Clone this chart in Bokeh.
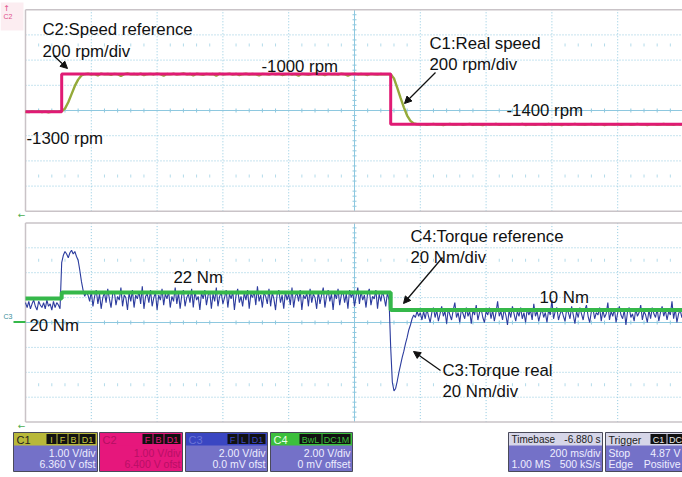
import numpy as np
from bokeh.plotting import figure
from bokeh.models import Range1d, Arrow, NormalHead
from bokeh.embed import file_html
from bokeh.resources import INLINE
from bokeh.core.properties import value

# ---------------- data ----------------
DT_SPEED = 0.01    # seconds per speed sample (200 ms/div, 10 div)
DT_TORQUE = 0.005  # seconds per torque sample

speed_ref_t = [0.0, 0.11, 0.11, 1.11, 1.11, 2.0]
speed_ref_rpm = [-1300, -1300, -1000, -1000, -1400, -1400]

torque_ref_t = [0.0, 0.11, 0.11, 1.11, 1.11, 2.0]
torque_ref_nm = [19.3, 19.3, 24.0, 24.0, 10.0, 10.0]

speed_real_rpm = [
    -1300, -1303, -1298, -1301, -1297, -1302, -1299, -1304, -1298, -1301, -1300,
    -1296, -1275, -1225, -1160, -1095, -1045, -1012, -1002,
    -998, -1004, -1001, -1012, -997, -1003, -1000, -1006, -999, -1002, -1015, -1001,
    -996, -1003, -1000, -1005, -998, -1010, -1002, -999, -1004, -997, -1001, -1013,
    -1000, -1003, -998, -1005, -1001, -996, -1004, -1000, -1011, -998, -1002, -1006,
    -999, -1003, -1000, -1014, -997, -1004, -1001, -998, -1005, -1000, -1009, -1002,
    -998, -1004, -1000, -1003, -1012, -999, -1001, -1005, -997, -1002, -1000, -1008,
    -1003, -999, -1004, -1001, -1013, -998, -1002, -1006, -1000, -997, -1004, -1001,
    -1010, -999, -1003, -1000, -1005, -998, -1002, -1014, -1001, -997, -1004, -1000,
    -1003, -1008, -999, -1002, -1005, -1000, -1003, -1001,
    -1002, -1035, -1110, -1190, -1265, -1330, -1372, -1393, -1399,
    -1401, -1398, -1403, -1400, -1396, -1402, -1399, -1405, -1400, -1397, -1402, -1401,
    -1398, -1404, -1400, -1396, -1403, -1399, -1401, -1406, -1398, -1402, -1400, -1397,
    -1403, -1401, -1399, -1404, -1398, -1400, -1402, -1396, -1405, -1399, -1401, -1403,
    -1398, -1400, -1404, -1397, -1402, -1399, -1401, -1406, -1398, -1403, -1400, -1396,
    -1402, -1399, -1404, -1400, -1397, -1403, -1401, -1398, -1405, -1400, -1399, -1402,
    -1397, -1403, -1400, -1398, -1404, -1401, -1396, -1402, -1399, -1405, -1400, -1398,
    -1403, -1401, -1397, -1402, -1400, -1404, -1398, -1401, -1399,
]

torque_real_nm = [
    # before the speed step
    16, 12, 17, 11, 15, 18, 13, 10, 17, 14, 12, 16, 11, 18, 13, 15, 10, 17, 12, 16, 14, 11,
    # acceleration torque pulse
    48, 54, 57, 55, 52, 56, 58, 55, 57, 53, 50, 42, 33, 26, 21, 24,
    # steady state at -1000 rpm
    22, 17, 25, 13, 21, 26, 15, 23, 11, 20, 24, 16,
    27, 19, 12, 23, 25, 14, 21, 18, 28, 13, 22, 20,
    10, 24, 17, 26, 12, 22, 19, 25, 15, 29, 11, 21,
    23, 16, 26, 13, 20, 24, 10, 22, 18, 27, 14, 23,
    19, 25, 12, 21, 17, 28, 15, 24, 11, 22, 26, 13,
    20, 23, 16, 27, 12, 25, 18, 21, 10, 24, 19, 26,
    14, 22, 25, 11, 23, 17, 28, 13, 21, 24, 15, 20,
    26, 12, 23, 19, 25, 10, 22, 27, 16, 21, 13, 24,
    18, 26, 11, 23, 20, 25, 14, 29, 17, 22, 12, 24,
    21, 15, 27, 13, 24, 19, 10, 23, 26, 16, 22, 11,
    25, 18, 23, 14, 28, 12, 21, 24, 17, 26, 10, 22,
    19, 24, 13, 27, 16, 23, 20, 11, 25, 15, 22, 28,
    12, 21, 26, 17, 23, 10, 24, 19, 27, 14, 22, 25,
    16, 23, 11, 26, 20, 24, 13, 21, 28, 15, 25, 18,
    22, 12, 24, 27, 14, 21, 19, 26, 11, 23, 17, 25,
    20, 13, 24, 18,
    # deceleration torque pulse
    -20, -48, -55, -53, -47, -40, -34, -28, -23, -17, -12, -6, -2, 3, 6, 4, 9, 5, 8, 2,
    # steady state at -1400 rpm
    9, 3, 11, 5, 0, 8, 12, 4, 10, 1, 7, 13,
    5, 9, -1, 11, 6, 2, 10, 16, 4, 8, 0, 11,
    7, 3, 12, 5, 9, -1, 10, 6, 14, 2, 8, 11,
    4, 0, 9, 6, 12, 3, 10, 1, 8, 17, 5, 9,
    2, 11, 6, -2, 10, 4, 13, 7, 1, 9, 5, 12,
    3, 8, 0, 11, 6, 10, 2, 15, 5, 9, 1, 7,
    11, 4, 8, 0, 10, 6, 18, 3, 9, 12, 2, 7,
    10, 5, 1, 11, 8, 3, 13, 6, -1, 9, 4, 12,
    7, 2, 10, 14, 5, 0, 9, 11, 3, 8, 6, 12,
    1, 10, 4, 7, 16, 2, 9, 5, 11, 0, 8, 13,
    6, 3, 10, -2, 9, 12, 4, 7, 1, 11, 5, 8,
    14, 2, 9, 6, 0, 10, 3, 12, 7, 4, 11, 1,
    8, 13, 5, 10, 2, 9, 6, 17, 3, 11, 0, 7,
    10, 4, 9,
]

speed_notes = ["C2:Speed reference", "200 rpm/div", "-1300 rpm", "-1000 rpm",
               "C1:Real speed", "200 rpm/div", "-1400 rpm"]
torque_notes = ["22 Nm", "20 Nm", "C4:Torque reference", "20 Nm/div", "10 Nm",
                "C3:Torque real", "20 Nm/div"]

# ---------------- layout ----------------
W, H = 682, 477
X0_PX, PX_PER_S = 25.0, 329.0
TOP_CY, TOP_PXDIV, RPM_DIV, RPM_C = 110.0, 25.2, 200.0, -1290.0
BOT_CY, BOT_PXDIV, NM_DIV, NM_C = 322.0, 24.9, 20.0, 0.0


def tx(px):
    return (px - X0_PX) / PX_PER_S


def ry(py):
    return RPM_C + (TOP_CY - py) / TOP_PXDIV * RPM_DIV


def ny(py):
    return NM_C + (BOT_CY - py) / BOT_PXDIV * NM_DIV


FONT = value("Liberation Sans")
GRID = "#8ec8df"
CENTER = "#8ec8df"
BORDER = "#c9c3c7"

p = figure(width=W, height=H, x_range=Range1d(tx(0), tx(W)), y_range=Range1d(H, 0),
           min_border=0, x_axis_type=None, y_axis_type=None, toolbar_location=None,
           output_backend="svg", background_fill_color="white",
           border_fill_color="white", outline_line_color=None)
p.extra_y_ranges = {"rpm": Range1d(ry(H), ry(0)), "nm": Range1d(ny(H), ny(0))}

# faint left-side marker strip
p.quad(left=[tx(0)], right=[tx(23)], top=[2], bottom=[30], fill_color="#fcedf1",
       line_color=None)


def draw_panel(rname, yc, ydiv, unit_per_px, dot_r):
    ytop, ybot = yc + 4 * ydiv, yc - 4 * ydiv
    hs = [yc + k * ydiv for k in (-3, -2, -1, 1, 2, 3)]
    p.segment(x0=[0.0] * 6, x1=[2.0] * 6, y0=hs, y1=hs, y_range_name=rname,
              line_color=GRID, line_dash="1 2", line_width=1)
    vs = [0.2 * k for k in range(1, 10) if k != 5]
    p.segment(x0=vs, x1=vs, y0=[ybot] * len(vs), y1=[ytop] * len(vs), y_range_name=rname,
              line_color=GRID, line_dash="1 2", line_width=1)
    p.segment(x0=[0.0, 1.0], x1=[2.0, 1.0], y0=[yc, ybot], y1=[yc, ytop],
              y_range_name=rname, line_color=CENTER, line_width=1)
    tt = [0.04 * k for k in range(1, 50) if k % 5]
    d = 2 * unit_per_px
    p.segment(x0=tt, x1=tt, y0=[yc - d] * len(tt), y1=[yc + d] * len(tt),
              y_range_name=rname, line_color=CENTER, line_width=1)
    yt = [yc + ydiv * k / 5 for k in range(-19, 20) if k % 5]
    dx = 2 / PX_PER_S
    p.segment(x0=[1.0 - dx] * len(yt), x1=[1.0 + dx] * len(yt), y0=yt, y1=yt,
              y_range_name=rname, line_color=CENTER, line_width=1)
    for sgn in (1, -1):
        yr = yc + sgn * dot_r * ydiv
        p.segment(x0=tt, x1=tt, y0=[yr - 1.5 * unit_per_px] * len(tt),
                  y1=[yr + 1.5 * unit_per_px] * len(tt), y_range_name=rname,
                  line_color="#b3dbea", line_width=1)
    p.segment(x0=[0.0, 0.0, 0.0], x1=[2.0, 2.0, 0.0], y0=[ytop, ybot, ybot],
              y1=[ytop, ybot, ytop], y_range_name=rname, line_color=BORDER, line_width=1.5)


draw_panel("rpm", RPM_C, RPM_DIV, RPM_DIV / TOP_PXDIV, 2.6)
draw_panel("nm", NM_C, NM_DIV, NM_DIV / BOT_PXDIV, 2.5)

# ---------------- traces ----------------
t_speed = np.arange(len(speed_real_rpm)) * DT_SPEED
t_torque = np.arange(len(torque_real_nm)) * DT_TORQUE

p.line(t_speed, speed_real_rpm, y_range_name="rpm", line_color="#94aa3a", line_width=2.4)
p.line(speed_ref_t, speed_ref_rpm, y_range_name="rpm", line_color="#e01a74", line_width=3)

p.line(t_torque, torque_real_nm, y_range_name="nm", line_color="#2c3c9e", line_width=1.1)
p.line(torque_ref_t, torque_ref_nm, y_range_name="nm", line_color="#35b84a", line_width=4)

# ---------------- annotations ----------------
sp_px = [(42, 29), (42, 51), (26, 138), (261, 66), (429, 43), (429, 64), (506, 110)]
p.text(x=[tx(a) for a, b in sp_px], y=[ry(b) for a, b in sp_px], text=speed_notes,
       y_range_name="rpm", text_font=FONT, text_font_size="16.8px",
       text_baseline="alphabetic", text_color="#111111")
tq_px = [(173, 277), (29, 325), (410, 236), (410, 257), (539, 297), (442, 370), (442, 391)]
p.text(x=[tx(a) for a, b in tq_px], y=[ny(b) for a, b in tq_px], text=torque_notes,
       y_range_name="nm", text_font=FONT, text_font_size="16.8px",
       text_baseline="alphabetic", text_color="#111111")


def arrow(rname, conv, x0, y0, x1, y1):
    p.add_layout(Arrow(end=NormalHead(size=7, fill_color="#111111", line_color="#111111"),
                       x_start=tx(x0), y_start=conv(y0), x_end=tx(x1), y_end=conv(y1),
                       y_range_name=rname, line_width=1.3, line_color="#111111"))


arrow("rpm", ry, 53, 55, 67, 68)
arrow("rpm", ry, 435, 72, 404, 103)
arrow("nm", ny, 442, 257, 403, 303)
arrow("nm", ny, 440, 370, 413, 351)

# left-edge markers
p.text(x=[tx(6)], y=[8], text=["↑"], text_font=value("DejaVu Sans"), text_font_size="8px",
       text_color="#e0508a", text_align="center", text_baseline="middle")
p.text(x=[tx(3)], y=[16], text=["C2"], text_font=FONT, text_font_size="7px",
       text_color="#e0508a", text_baseline="middle")
p.text(x=[tx(3)], y=[316], text=["C3"], text_font=FONT, text_font_size="7px",
       text_color="#3a8f9a", text_baseline="middle")
p.segment(x0=[tx(13)], x1=[tx(25)], y0=[321.5], y1=[321.5], line_color="#35b84a", line_width=2)
p.text(x=[tx(21), tx(21)], y=[214, 425], text=["←", "←"], text_font=value("DejaVu Sans"),
       text_font_size="9px", text_color="#4caf50", text_align="center", text_baseline="middle")

# ---------------- info boxes ----------------
BODY = "#7471c8"
BOX_T, HEAD_B, BOX_B = 432, 445, 471
L1, L2 = 452.5, 463.5


def txt(x, y, s, color, align="left", size="10.5px"):
    p.text(x=[tx(x)], y=[y], text=[s], text_font=FONT, text_font_size=size,
           text_color=color, text_align=align, text_baseline="middle")


def badges(x_right, items, tcolor):
    x = x_right
    for s in reversed(items):
        w = 6.0 * len(s) + 4
        p.quad(left=[tx(x - w)], right=[tx(x)], top=[BOX_T + 1.5], bottom=[HEAD_B - 1.5],
               fill_color="#111111", line_color=None)
        txt(x - w / 2, (BOX_T + HEAD_B) / 2 + 0.5, s, tcolor, "center", "9px")
        x -= w + 1


def box(x0, x1, head, body, label, label_col, badge_items, badge_col, lines, line_col,
        head_size="11px"):
    p.quad(left=[tx(x0)], right=[tx(x1)], top=[BOX_T], bottom=[BOX_B], fill_color=body,
           line_color="#4a4a5a", line_width=1)
    p.quad(left=[tx(x0 + 0.5)], right=[tx(x1 - 0.5)], top=[BOX_T + 0.5], bottom=[HEAD_B],
           fill_color=head, line_color=None)
    txt(x0 + 3, (BOX_T + HEAD_B) / 2 + 0.5, label[0], label_col, "left", head_size)
    if len(label) > 1:
        txt(x1 - 2, (BOX_T + HEAD_B) / 2 + 0.5, label[1], label_col, "right", head_size)
    if badge_items:
        badges(x1 - 2, badge_items, badge_col)
    for (s, align, row) in lines:
        y = L1 if row == 1 else L2
        if align == "right":
            txt(x1 - 2, y, s, line_col, "right")
        else:
            txt(x0 + 3, y, s, line_col, "left")


box(13, 97, "#b8b83a", BODY, ["C1"], "#222222", ["I", "F", "B", "D1"], "#c8c840",
    [("1.00 V/div", "right", 1), ("6.360 V ofst", "right", 2)], "#eeeeff")
box(99, 182, "#e6177c", "#e6177c", ["C2"], "#b40f62", ["F", "B", "D1"], "#e6177c",
    [("1.00 V/div", "right", 1), ("6.400 V ofst", "right", 2)], "#b80f66")
box(185, 267, "#3a46c2", BODY, ["C3"], "#6a74d6", ["F", "L", "D1"], "#3a46c2",
    [("2.00 V/div", "right", 1), ("0.0 mV ofst", "right", 2)], "#eeeeff")
box(270, 352, "#3cbf3c", BODY, ["C4"], "#eaffea", ["BwL", "DC1M"], "#3cbf3c",
    [("2.00 V/div", "right", 1), ("0 mV offset", "right", 2)], "#eeeeff")
box(508, 602, "#d6d6e8", BODY, ["Timebase", "-6.880 s"], "#222222", None, None,
    [("200 ms/div", "right", 1), ("1.00 MS", "left", 2), ("500 kS/s", "right", 2)], "#eeeeff",
    head_size="10px")
box(605, 690, "#d6d6e8", BODY, ["Trigger"], "#222222", None, None,
    [("Stop", "left", 1), ("Edge", "left", 2)], "#eeeeff", head_size="10.5px")
badges(683, ["C1", "DC"], "#e8e8e8")
txt(680, L1, "4.87 V", "#eeeeff", "right")
txt(680, L2, "Positive", "#eeeeff", "right")

open("out.html", "w").write(file_html(p, INLINE))
